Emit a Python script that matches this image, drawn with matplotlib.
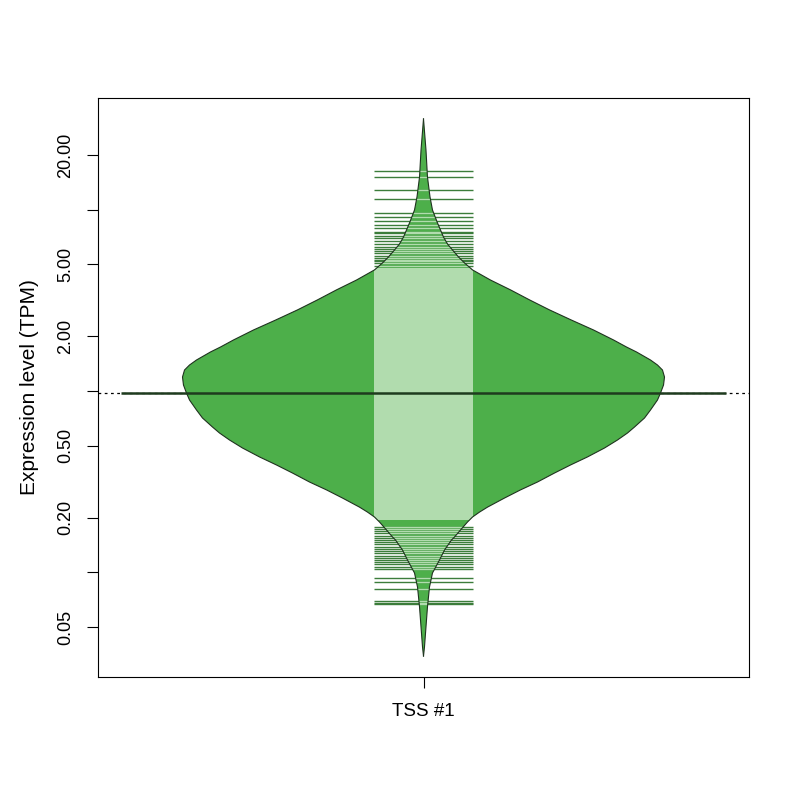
import numpy as np
import matplotlib
matplotlib.use("Agg")
import matplotlib.pyplot as plt
from matplotlib.patches import Polygon, Rectangle

plt.rcParams['font.family'] = ['Liberation Sans', 'DejaVu Sans']

# bean outline: level (TPM) and half width (x units)
bean_level = [31.6, 21.31, 15.12, 11.74, 9.95, 8.44, 7.72, 7.06, 6.46, 5.99,
              5.48, 5.08, 4.65, 4.09, 3.61, 3.18, 2.80, 2.46, 2.17, 1.911,
              1.748, 1.641, 1.482, 1.391, 1.305, 1.194, 1.079, 0.975, 0.892, 0.786,
              0.710, 0.633, 0.587, 0.537, 0.485, 0.433, 0.391, 0.353, 0.315, 0.285,
              0.257, 0.229, 0.215, 0.202, 0.1896, 0.1713, 0.1567, 0.1509, 0.1329, 0.1171,
              0.0993, 0.0831, 0.0645, 0.0500, 0.0388, 0.0346]
bean_halfwidth = [0.0, 0.0038, 0.0061, 0.0100, 0.0138, 0.0215, 0.0261, 0.0307, 0.0369, 0.0445,
                  0.0538, 0.0630, 0.0753, 0.1029, 0.1336, 0.1628, 0.1935, 0.2273, 0.2611, 0.2919,
                  0.3118, 0.3272, 0.3487, 0.3594, 0.3671, 0.3702, 0.3687, 0.3641, 0.3594, 0.3487,
                  0.3395, 0.3241, 0.3134, 0.2980, 0.2780, 0.2519, 0.2258, 0.2012, 0.1751, 0.1490,
                  0.1244, 0.0983, 0.0860, 0.0753, 0.0676, 0.0568, 0.0476, 0.0430, 0.0323, 0.0246,
                  0.0138, 0.0092, 0.0061, 0.0038, 0.0015, 0.0]

# individual observations visible in the tails (TPM)
upper_obs = [16.32, 15.12, 12.83, 11.44, 9.58, 9.10, 8.65, 8.23, 7.92, 7.52,
             7.40, 7.15, 6.97, 6.71, 6.46, 6.22, 6.10, 5.91, 5.77, 5.55,
             5.41, 5.30, 5.21, 5.08, 4.89]
lower_obs = [0.1779, 0.1735, 0.1691, 0.1649, 0.1587, 0.1547, 0.1509, 0.1471,
             0.1434, 0.1380, 0.1346, 0.1312, 0.1279, 0.1231, 0.1201, 0.1171,
             0.1141, 0.1113, 0.1071, 0.1044, 0.0931, 0.0886, 0.0810, 0.0696,
             0.0682, 0.0670]
# range where observations are so dense the lines merge
dense_range = [0.1945, 4.76]

bean_mean = 0.975
group_labels = ["TSS #1"]

ytick_vals = [0.05, 0.1, 0.2, 0.5, 1, 2, 5, 10, 20]
ytick_text = ["0.05", "", "0.20", "0.50", "", "2.00", "5.00", "", "20.00"]

fill_col = "#4DAF4A"
light_col = "#B1DCAE"
dark_col = "#3C7D3B"
edge_col = "#1F331F"
line_half = 0.0753

fig = plt.figure(figsize=(8, 8), dpi=100)
ax = fig.add_axes([0.1225, 0.15375, 0.81375, 0.72375])
ax.set_yscale('log')
ax.set_xlim(0.5, 1.5)
ax.set_ylim(0.02651, 41.23)

x0 = 1
hw = np.array(bean_halfwidth)
lev = np.array(bean_level)
verts = np.column_stack([np.concatenate([x0 - hw, (x0 + hw)[::-1]]),
                         np.concatenate([lev, lev[::-1]])])

# overall line
ax.axhline(bean_mean, color='black', lw=0.9, ls=(0, (2.2, 2.8)), zorder=1)

bean = Polygon(verts, closed=True, facecolor=fill_col, edgecolor='none', zorder=2)
ax.add_patch(bean)

obs = upper_obs + lower_obs
ax.hlines(obs, x0 - line_half, x0 + line_half, color=dark_col, lw=1.0, zorder=3)

inner = ax.hlines(obs, x0 - line_half, x0 + line_half, color=light_col, lw=1.0, zorder=4)
inner.set_clip_path(bean)
band = Rectangle((x0 - line_half, dense_range[0]), 2 * line_half,
                 dense_range[1] - dense_range[0], facecolor=light_col,
                 edgecolor='none', zorder=4)
ax.add_patch(band)
band.set_clip_path(bean)

ax.plot(x0 - hw, lev, color=edge_col, lw=0.8, zorder=5)
ax.plot(x0 + hw, lev, color=edge_col, lw=0.8, zorder=5)

ax.hlines(bean_mean, x0 - 0.464, x0 + 0.464, color="#1E3B1E", lw=1.8, zorder=6)

ax.set_yticks(ytick_vals)
ax.set_yticklabels(ytick_text)
ax.yaxis.set_minor_locator(matplotlib.ticker.NullLocator())
plt.setp(ax.get_yticklabels(), rotation=90, va='center')
ax.set_xticks([1])
ax.set_xticklabels(group_labels)
ax.tick_params(direction='out', length=8, width=0.8, labelsize=13)
ax.tick_params(axis='y', pad=9)
ax.tick_params(axis='x', pad=11, labelsize=13.5)
ax.set_ylabel("Expression level (TPM)", fontsize=15, labelpad=13)
for s in ax.spines.values():
    s.set_linewidth(0.8)

fig.savefig("out.png", dpi=100)
